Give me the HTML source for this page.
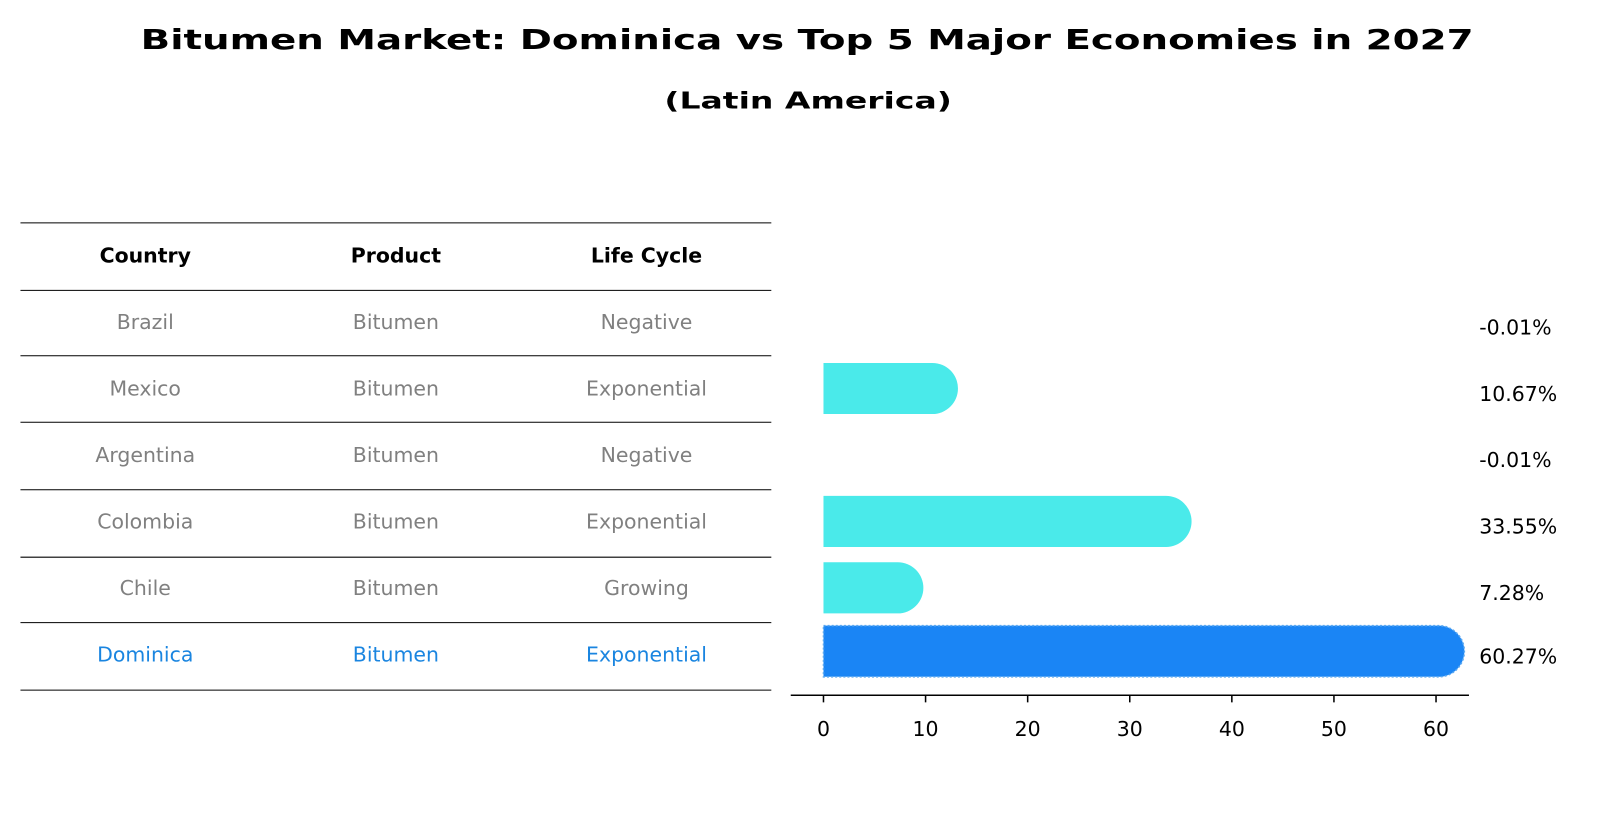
<!DOCTYPE html>
<html><head><meta charset="utf-8"><style>
html,body{margin:0;padding:0;background:#fff}
svg{display:block;font-family:"DejaVu Sans","Liberation Sans",sans-serif}
</style></head><body>
<svg width="1604" height="823" viewBox="0 0 1568 805" preserveAspectRatio="none" id="chart">
<text x="789" y="48" text-anchor="middle" font-size="27" font-weight="bold" textLength="1303" lengthAdjust="spacingAndGlyphs">Bitumen Market: Dominica vs Top 5 Major Economies in 2027</text>
<text x="790" y="106" text-anchor="middle" font-size="23" font-weight="bold" textLength="281" lengthAdjust="spacingAndGlyphs">(Latin America)</text>
<g id="table"></g>
<g id="bars"></g>
</svg>
<script>
const countries=["Brazil","Mexico","Argentina","Colombia","Chile","Dominica"];
const products=["Bitumen","Bitumen","Bitumen","Bitumen","Bitumen","Bitumen"];
const lifecycles=["Negative","Exponential","Negative","Exponential","Growing","Exponential"];
const values=[-0.01,10.67,-0.01,33.55,7.28,60.27];
const valueLabels=["-0.01%","10.67%","-0.01%","33.55%","7.28%","60.27%"];
const ticks=[0,10,20,30,40,50,60];

const NS="http://www.w3.org/2000/svg";
function mk(tag,attrs,parent){const e=document.createElementNS(NS,tag);for(const k in attrs)e.setAttribute(k,attrs[k]);parent.appendChild(e);return e;}
const tbl=document.getElementById('table');
const rowY=i=>315+i*65;
const lineYs=[218,284,348,413,479,545,609,675];
lineYs.forEach((y,i)=>{const l=mk('line',{x1:20,x2:754,y1:y,y2:y,stroke:'#000','stroke-width':1},tbl);

});
const colX=[142,387,632];
["Country","Product","Life Cycle"].forEach((h,j)=>{const t=mk('text',{x:colX[j],y:257,'text-anchor':'middle','font-size':20,'font-weight':'bold'},tbl);t.textContent=h;

});
countries.forEach((c,i)=>{const col=c==="Dominica"?"#1a85e0":"#808080";
[c,products[i],lifecycles[i]].forEach((v,j)=>{const t=mk('text',{x:colX[j],y:rowY(i)+7,'text-anchor':'middle','font-size':20,fill:col},tbl);t.textContent=v;

});});

const g=document.getElementById('bars');
const x0=805,scale=9.98;const xs=v=>x0+v*scale;
const bh=50,r=25;
values.forEach((v,i)=>{const cy=rowY(i)+(i===5?-3:0);const yy=cy-25;
if(v>0.05){const xe=xs(v);const isD=countries[i]==="Dominica";
const p=mk('path',{d:`M${x0},${yy} H${xe} A${r},${r} 0 0 1 ${xe},${yy+bh} H${x0} Z`,fill:isD?'#1a85f5':'#4aeaea'},g);
if(isD){p.setAttribute('stroke','#5aa8f0');p.setAttribute('stroke-dasharray','2,2');p.setAttribute('stroke-width','1.5');}

}
const t=mk('text',{x:1446,y:cy+12,'font-size':20},g);t.textContent=valueLabels[i];

});
const ax=mk('line',{x1:773,x2:1436,y1:680,y2:680,stroke:'#000','stroke-width':1.5},g);


ticks.forEach(tv=>{const l=mk('line',{x1:xs(tv),x2:xs(tv),y1:680,y2:687,stroke:'#000','stroke-width':1.5},g);


const t=mk('text',{x:xs(tv),y:720,'text-anchor':'middle','font-size':20},g);t.textContent=tv;

});
</script>
</body></html>
